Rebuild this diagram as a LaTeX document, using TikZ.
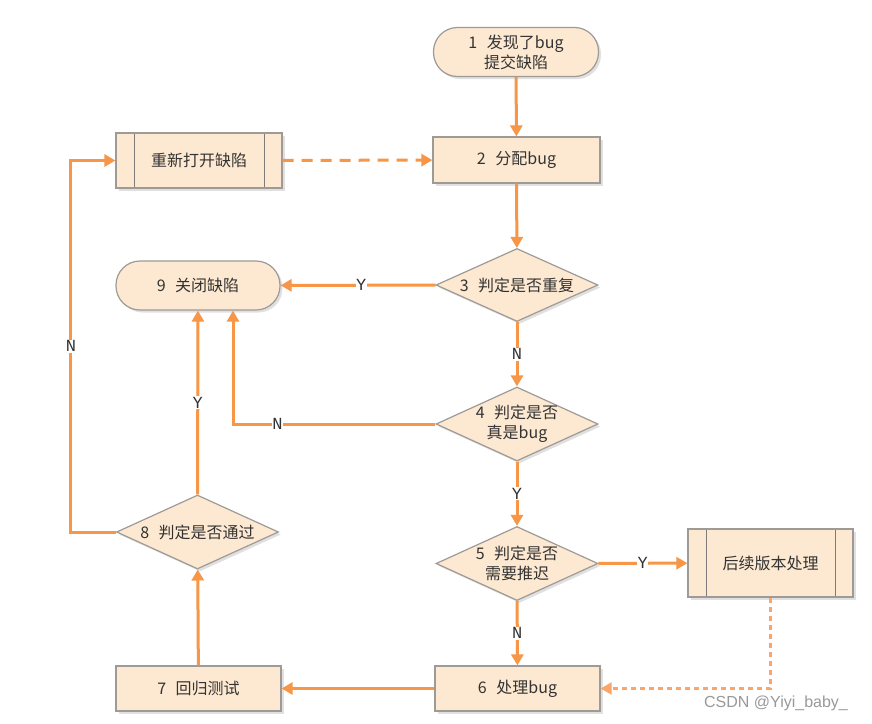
\documentclass[tikz,border=0pt]{standalone}
\usepackage{fontspec}
\setmainfont{Noto Sans CJK SC}
\newfontfamily\labfont{Liberation Mono}
\newfontfamily\wmfont{Liberation Sans}
\usetikzlibrary{arrows.meta,shapes.geometric,shadows}
\definecolor{boxfill}{HTML}{FDE9D1}
\definecolor{boxline}{HTML}{9E9A96}
\definecolor{arrcol}{HTML}{F79646}
\definecolor{dotcol}{HTML}{FAA56A}
\definecolor{txt}{HTML}{333333}
\tikzset{
  base/.style={draw=boxline, line width=1.2pt, fill=boxfill, text=txt,
    font=\fontsize{16}{20}\selectfont, align=center, inner sep=0pt,
    drop shadow={shadow xshift=2.5pt, shadow yshift=-2.5pt, fill=black, opacity=0.12}},
  term/.style={base, rectangle, rounded corners=24pt},
  proc/.style={base, rectangle},
  predef/.style={base, rectangle, path picture={
     \draw[boxline!80!black, line width=1pt] ([xshift=18pt]path picture bounding box.north west) -- ([xshift=18pt]path picture bounding box.south west);
     \draw[boxline!80!black, line width=1pt] ([xshift=-18pt]path picture bounding box.north east) -- ([xshift=-18pt]path picture bounding box.south east);}},
  dec/.style={base, diamond, shape aspect=2.2},
  dectext/.style={text=txt, font=\fontsize{16}{20}\selectfont, align=center, inner sep=0pt},
  arr/.style={draw=arrcol, line width=3pt, -{Triangle[length=11pt,width=12pt]}},
  dashline/.style={dash pattern=on 11pt off 8pt},
  dotline/.style={draw=dotcol, line width=2.2pt, dash pattern=on 5pt off 4pt, -{Triangle[length=11pt,width=12pt]}},
  lab/.style={fill=white, text=txt, font=\labfont\fontsize{17}{18}\selectfont, inner xsep=0.5pt, inner ysep=1pt}
}
\begin{document}
\begin{tikzpicture}[x=1pt,y=-1pt]
\useasboundingbox[fill=white] (0,0) rectangle (872,723);
% nodes
\node[term, minimum width=165pt, minimum height=49pt] (n1) at (516,52) {1\hspace{0.6em}发现了bug\\提交缺陷};
\node[proc, minimum width=167pt, minimum height=46pt] (n2) at (516.5,160) {2\hspace{0.6em}分配bug};
\node[predef, minimum width=166pt, minimum height=55pt] (re) at (199,160.5) {重新打开缺陷};
\node[dec, minimum width=162pt, minimum height=73pt] (n3) at (517,285) {};
\node[dectext] at (n3.center) {3\hspace{0.6em}判定是否重复};
\node[term, minimum width=164pt, minimum height=49pt] (n9) at (198,285.5) {9\hspace{0.6em}关闭缺陷};
\node[dec, minimum width=162pt, minimum height=74pt] (n4) at (517,424) {};
\node[dectext] at (n4.center) {4\hspace{0.6em}判定是否\\真是bug};
\node[dec, minimum width=162pt, minimum height=74pt] (n5) at (517,563.5) {};
\node[dectext] at (n5.center) {5\hspace{0.6em}判定是否\\需要推迟};
\node[predef, minimum width=165pt, minimum height=68pt] (later) at (770.5,563) {后续版本处理};
\node[proc, minimum width=165pt, minimum height=45pt] (n6) at (517.5,688.5) {6\hspace{0.6em}处理bug};
\node[proc, minimum width=165pt, minimum height=45pt] (n7) at (198.5,688.5) {7\hspace{0.6em}回归测试};
\node[dec, minimum width=162pt, minimum height=74pt] (n8) at (197.5,532) {};
\node[dectext] at (n8.center) {8\hspace{0.6em}判定是否通过};
% connectors
\draw[arr] (n1) -- (n2);
\draw[arr, dashline] (re) -- (n2);
\draw[arr] (n2) -- (n3);
\draw[arr] (n3) -- node[lab, pos=0.48]{Y} (n9);
\draw[arr] (n3) -- node[lab]{N} (n4);
\draw[arr] (n4.west) -| node[lab, pos=0.39]{N} ([xshift=35pt]n9.south);
\draw[arr] (n4) -- node[lab]{Y} (n5);
\draw[arr] (n5) -- node[lab, pos=0.5]{Y} (later);
\draw[arr] (n5) -- node[lab]{N} (n6);
\draw[dotline] (later.south) |- (n6.east);
\draw[arr] (n6) -- (n7);
\draw[arr] (n7) -- (n8);
\draw[arr] (n8) -- node[lab, pos=0.5]{Y} (n9);
\coordinate (nl) at ([xshift=-45pt]n8.west);
\draw[arr] (n8.west) -- (nl) |- node[lab, pos=0.25]{N} (re.west);
% watermark
\node[text=black!40, font=\wmfont\fontsize{16}{18}\selectfont, inner sep=0pt] (wm) at (776,703) {CSDN @Yiyi\_baby\_};
\end{tikzpicture}
\end{document}
